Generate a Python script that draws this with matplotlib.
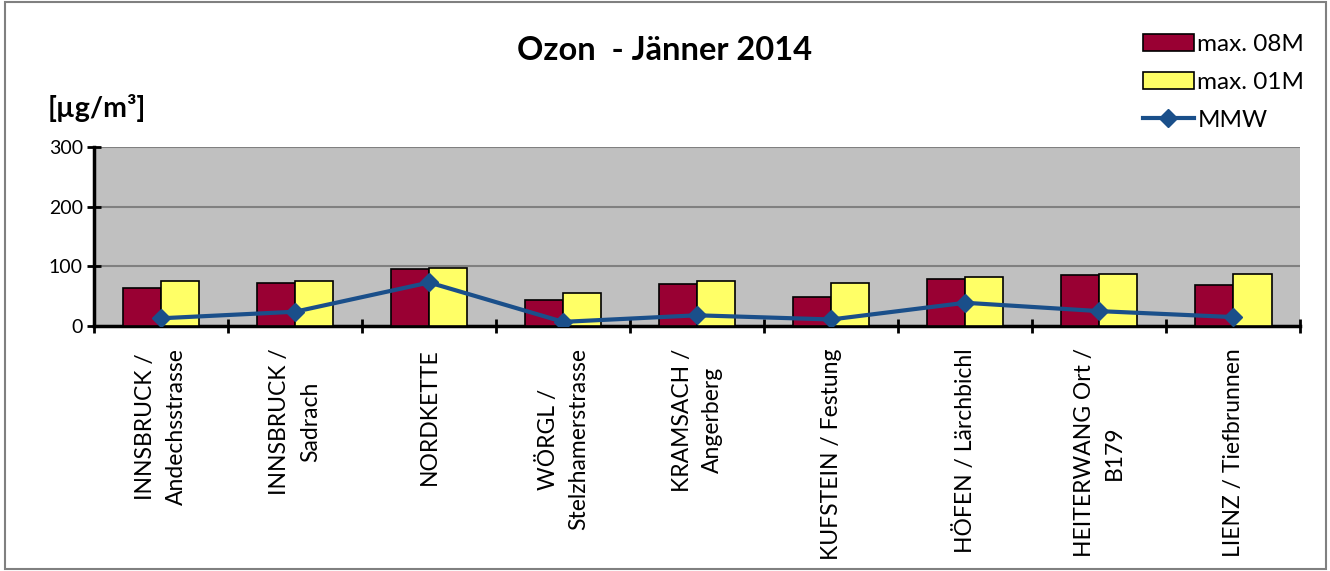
import numpy as np
import matplotlib.pyplot as plt
from matplotlib.patches import Rectangle

stations = ["INNSBRUCK /\nAndechsstrasse", "INNSBRUCK /\nSadrach", "NORDKETTE",
            "WÖRGL /\nStelzhamerstrasse", "KRAMSACH /\nAngerberg", "KUFSTEIN / Festung",
            "HÖFEN / Lärchbichl", "HEITERWANG Ort /\nB179", "LIENZ / Tiefbrunnen"]

max_08m = [63, 72, 95, 43, 70, 48, 78, 85, 68]
max_01m = [76, 76, 97, 56, 76, 72, 82, 87, 87]
mmw = [13, 24, 73, 7, 18, 11, 39, 25, 15]

font_name = "Lato"
plt.rcParams['font.family'] = [font_name, 'DejaVu Sans']

fig = plt.figure(figsize=(13.3, 5.71), dpi=100)
ax = fig.add_axes([0.0707, 0.429, 0.907, 0.3135])

index = np.arange(len(stations))
bar_width = 0.285

b1 = ax.bar(index - bar_width / 2, max_08m, bar_width, color='#990033',
            edgecolor='black', linewidth=1.2, label='max. 08M', zorder=3)
b2 = ax.bar(index + bar_width / 2, max_01m, bar_width, color='#FFFF66',
            edgecolor='black', linewidth=1.2, label='max. 01M', zorder=3)
l1, = ax.plot(index, mmw, color='#1A4F8A', linewidth=3, marker='D', markersize=9,
              label='MMW', zorder=4)

ax.set_facecolor('#C0C0C0')
ax.set_xlim(-0.5, len(stations) - 0.5)
ax.set_ylim(0, 300)
ax.set_yticks([0, 100, 200, 300])
ax.yaxis.grid(color='#808080', linewidth=1.5, zorder=0)
ax.set_axisbelow(True)

ax.set_xticks(index)
ax.set_xticklabels(stations, rotation=90, fontsize=16.5, va='top', ha='center',
                   multialignment='center', linespacing=1.55)
ax.set_xticks(np.arange(-0.5, len(stations)), minor=True)
ax.tick_params(axis='x', which='major', length=0, pad=16)
ax.tick_params(axis='x', which='minor', length=10, width=2, direction='inout')
ax.tick_params(axis='y', length=10, width=2, direction='inout', labelsize=14, pad=3)

ax.spines['top'].set_visible(False)
ax.spines['right'].set_visible(False)
ax.spines['left'].set_linewidth(2.5)
ax.spines['bottom'].set_linewidth(2.5)

fig.text(0.5, 0.912, "Ozon  - Jänner 2014", ha='center', va='center',
         fontsize=23.5, fontweight='bold')
fig.text(0.036, 0.81, "[µg/m³]", ha='left', va='center', fontsize=20.5,
         fontweight='bold')

fig.legend(handles=[b1, b2, l1], loc='upper left', bbox_to_anchor=(0.85, 0.962),
           frameon=False, fontsize=17.5, handlelength=2.1, handleheight=0.7,
           labelspacing=0.7, handletextpad=0.15, borderpad=0)

fig.patches.append(Rectangle((0.004, 0.004), 0.993, 0.992, transform=fig.transFigure,
                             fill=False, edgecolor='#808080', linewidth=1.5))

plt.savefig("out.png", dpi=100)
